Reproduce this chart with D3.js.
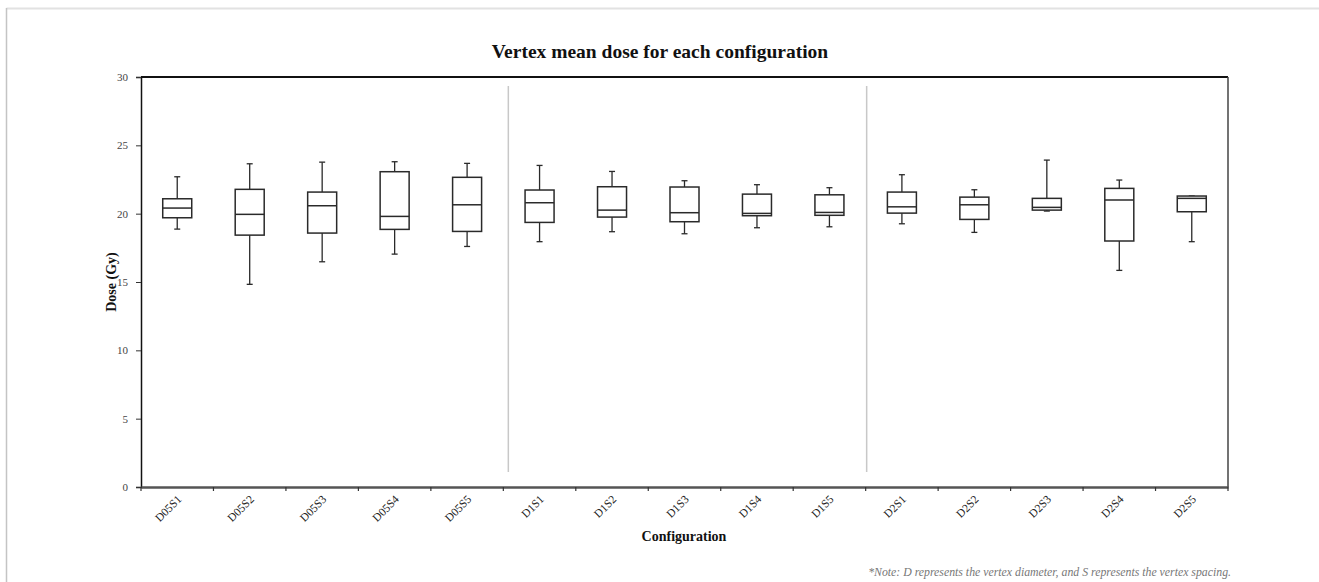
<!DOCTYPE html>
<html>
<head>
<meta charset="utf-8">
<script src="https://cdn.jsdelivr.net/npm/d3@7"></script>
<style>
  html, body { margin: 0; padding: 0; background: #fff; }
  svg { display: block; }
</style>
</head>
<body>
<svg id="chart" width="1319" height="582"></svg>
<script>
// Configurations (D = vertex diameter, S = vertex spacing)
const categories = ["D05S1","D05S2","D05S3","D05S4","D05S5",
                    "D1S1","D1S2","D1S3","D1S4","D1S5",
                    "D2S1","D2S2","D2S3","D2S4","D2S5"];
// Five-number summaries of vertex mean dose (Gy)
const whiskerLow  = [18.87,14.83,16.48,17.04,17.60, 17.95,18.68,18.53,18.97,19.04, 19.26,18.63,20.19,15.85,17.95];
const quart1      = [19.70,18.43,18.58,18.85,18.70, 19.36,19.75,19.41,19.85,19.88, 20.04,19.58,20.26,18.00,20.14];
const medians     = [20.41,19.95,20.58,19.80,20.65, 20.80,20.26,20.07,20.02,20.09, 20.50,20.65,20.46,21.00,21.12];
const quart3      = [21.09,21.78,21.58,23.07,22.66, 21.73,21.97,21.95,21.43,21.38, 21.58,21.21,21.12,21.85,21.29];
const whiskerHigh = [22.70,23.65,23.77,23.80,23.68, 23.53,23.09,22.41,22.12,21.90, 22.85,21.75,23.92,22.46,21.29];
const yTicks = [0,5,10,15,20,25,30];
const groupBreaks = ["D1S1","D2S1"];

const svg = d3.select("#chart");
const W = 1319, H = 582;
const m = {left: 141, right: 1228, top: 77, bottom: 487};

// outer frame lines
svg.append("line").attr("x1", 6.5).attr("x2", W).attr("y1", 8.5).attr("y2", 8.5)
  .attr("stroke", "#e2e2e2").attr("stroke-width", 2);
svg.append("line").attr("x1", 6.5).attr("x2", 6.5).attr("y1", 8).attr("y2", H)
  .attr("stroke", "#c4c4c4").attr("stroke-width", 1.5);

const data = categories.map((c, i) => ({
  cat: c, lo: whiskerLow[i], q1: quart1[i], med: medians[i], q3: quart3[i], hi: whiskerHigh[i]
}));

const x = d3.scaleBand().domain(categories).range([m.left, m.right]);
const y = d3.scaleLinear().domain([0, 30]).range([m.bottom, m.top]);

// group separators
svg.selectAll("line.sep").data(groupBreaks).join("line")
  .attr("class", "sep")
  .attr("x1", (d, i) => x(d) + (i === 0 ? 5 : 1))
  .attr("x2", (d, i) => x(d) + (i === 0 ? 5 : 1))
  .attr("y1", m.top + 9).attr("y2", m.bottom - 15)
  .attr("stroke", "#c8c8c8").attr("stroke-width", 1.5);

// plot frame: top and right
svg.append("line").attr("x1", m.left).attr("x2", m.right).attr("y1", m.top).attr("y2", m.top)
  .attr("stroke", "#111").attr("stroke-width", 2);
svg.append("line").attr("x1", m.right).attr("x2", m.right).attr("y1", m.top).attr("y2", m.bottom)
  .attr("stroke", "#444").attr("stroke-width", 1.5);

// axes
const yAxis = svg.append("g").attr("transform", `translate(${m.left},0)`)
  .call(d3.axisLeft(y).tickValues(yTicks).tickSize(5).tickPadding(8));
yAxis.select(".domain").attr("stroke", "#111").attr("stroke-width", 1.5);
yAxis.selectAll(".tick line").attr("stroke", "#333");
yAxis.selectAll(".tick text").attr("font-family", "'Liberation Serif', serif")
  .attr("font-size", 11).attr("fill", "#444");

const xAxis = svg.append("g").attr("transform", `translate(0,${m.bottom})`)
  .call(d3.axisBottom(x).tickSize(0).tickFormat(""));
xAxis.select(".domain").attr("stroke", "#555").attr("stroke-width", 2.5);
xAxis.selectAll(".tick").remove();
// boundary ticks between categories
const edges = categories.map(c => x(c)).concat([m.right]);
xAxis.selectAll("line.edge").data(edges).join("line")
  .attr("class", "edge")
  .attr("x1", d => d).attr("x2", d => d).attr("y1", 0).attr("y2", 4)
  .attr("stroke", "#333").attr("stroke-width", 1.2);
// rotated category labels
xAxis.selectAll("text.lab").data(categories).join("text")
  .attr("class", "lab")
  .attr("transform", d => `translate(${x(d) + x.bandwidth() / 2 + 5},${13}) rotate(-45)`)
  .attr("text-anchor", "end")
  .attr("font-family", "'Liberation Serif', serif")
  .attr("font-size", 11.5)
  .attr("fill", "#222")
  .text(d => d);

// boxes
const bw = 29;
const g = svg.append("g").selectAll("g").data(data).join("g")
  .attr("transform", d => `translate(${x(d.cat) + x.bandwidth() / 2},0)`);
const ink = "#2a2a2a";
g.append("line").attr("x1", 0).attr("x2", 0)
  .attr("y1", d => y(d.hi)).attr("y2", d => y(d.q3))
  .attr("stroke", ink).attr("stroke-width", 1.3);
g.append("line").attr("x1", 0).attr("x2", 0)
  .attr("y1", d => y(d.q1)).attr("y2", d => y(d.lo))
  .attr("stroke", ink).attr("stroke-width", 1.3);
g.append("line").attr("x1", -3).attr("x2", 3)
  .attr("y1", d => y(d.hi)).attr("y2", d => y(d.hi))
  .attr("stroke", ink).attr("stroke-width", 1.3);
g.append("line").attr("x1", -3).attr("x2", 3)
  .attr("y1", d => y(d.lo)).attr("y2", d => y(d.lo))
  .attr("stroke", ink).attr("stroke-width", 1.3);
g.append("rect").attr("x", -bw / 2).attr("width", bw)
  .attr("y", d => y(d.q3)).attr("height", d => y(d.q1) - y(d.q3))
  .attr("fill", "#fff").attr("stroke", ink).attr("stroke-width", 1.5);
g.append("line").attr("x1", -bw / 2).attr("x2", bw / 2)
  .attr("y1", d => y(d.med)).attr("y2", d => y(d.med))
  .attr("stroke", ink).attr("stroke-width", 1.5);

// titles
svg.append("text").attr("x", 660).attr("y", 58).attr("text-anchor", "middle")
  .attr("font-family", "'Liberation Serif', serif").attr("font-weight", "bold")
  .attr("font-size", 19.5).attr("fill", "#111")
  .text("Vertex mean dose for each configuration");
svg.append("text")
  .attr("transform", `translate(116,${(m.top + m.bottom) / 2}) rotate(-90)`)
  .attr("text-anchor", "middle")
  .attr("font-family", "'Liberation Serif', serif").attr("font-weight", "bold")
  .attr("font-size", 14).attr("fill", "#111")
  .text("Dose (Gy)");
svg.append("text").attr("x", 684).attr("y", 541).attr("text-anchor", "middle")
  .attr("font-family", "'Liberation Serif', serif").attr("font-weight", "bold")
  .attr("font-size", 14).attr("fill", "#111")
  .text("Configuration");
svg.append("text").attr("x", 1231).attr("y", 576).attr("text-anchor", "end")
  .attr("font-family", "'Liberation Serif', serif").attr("font-style", "italic")
  .attr("font-size", 11.8).attr("fill", "#777")
  .text("*Note: D represents the vertex diameter, and S represents the vertex spacing.");
</script>
</body>
</html>
